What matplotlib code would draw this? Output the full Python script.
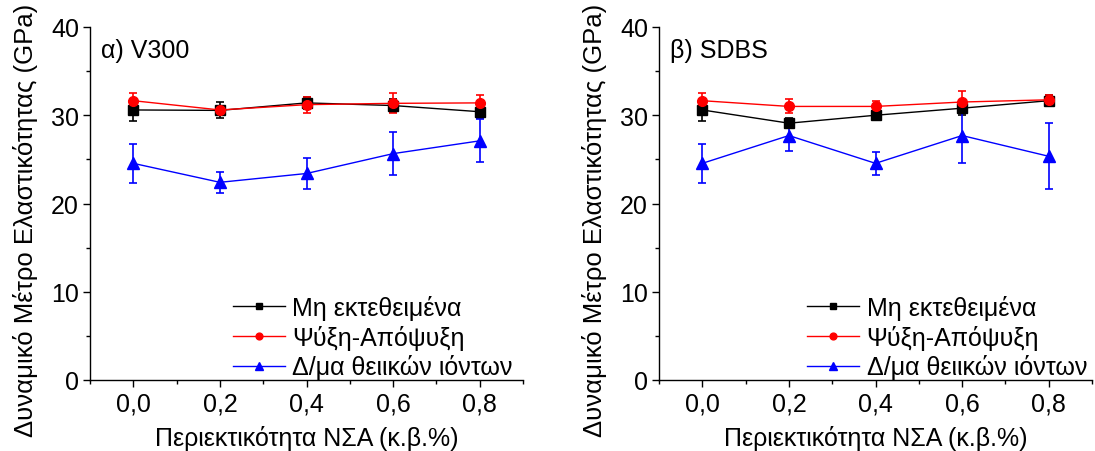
import matplotlib
matplotlib.use("Agg")
import matplotlib.pyplot as plt
from matplotlib.ticker import MultipleLocator

plt.rcParams['font.family'] = ['Liberation Sans', 'DejaVu Sans']

# NSA content (wt.%)
nsa = [0.0, 0.2, 0.4, 0.6, 0.8]

series_names = ["Μη εκτεθειμένα", "Ψύξη-Απόψυξη", "Δ/μα θειικών ιόντων"]

# Panel a) V300
v300_ref = [30.6, 30.55, 31.4, 31.1, 30.4]
v300_ref_err = [1.2, 0.9, 0.7, 0.7, 0.7]
v300_ft = [31.65, 30.6, 31.2, 31.35, 31.4]
v300_ft_err = [0.85, 0.3, 0.9, 1.15, 0.9]
v300_sulf = [24.55, 22.4, 23.4, 25.65, 27.1]
v300_sulf_err = [2.2, 1.2, 1.8, 2.45, 2.45]

# Panel b) SDBS
sdbs_ref = [30.6, 29.1, 30.0, 30.8, 31.65]
sdbs_ref_err = [1.2, 0.6, 0.3, 0.8, 0.6]
sdbs_ft = [31.65, 31.0, 31.0, 31.5, 31.75]
sdbs_ft_err = [0.85, 0.8, 0.65, 1.3, 0.5]
sdbs_sulf = [24.55, 27.7, 24.55, 27.7, 25.35]
sdbs_sulf_err = [2.2, 1.8, 1.3, 3.1, 3.75]

panel_labels = ["α) V300", "β) SDBS"]
x_label = "Περιεκτικότητα ΝΣΑ (κ.β.%)"
y_label = "Δυναμικό Μέτρο Ελαστικότητας (GPa)"
x_ticks = [0.0, 0.2, 0.4, 0.6, 0.8]
x_ticklabels = ["0,0", "0,2", "0,4", "0,6", "0,8"]
y_ticks = [0, 10, 20, 30, 40]

colors = ["black", "red", "blue"]
markers = ["s", "o", "^"]
msizes = [6.5, 7, 8.5]

FS = 18
FS_Y = 18.5

fig = plt.figure(figsize=(10.95, 4.52), dpi=100)
W, H = 1095, 452
# (left, right, legend right edge) in pixels
axes_px = [(90, 523, 513), (659, 1092, 1087)]
y_top, y_bot = 28, 381

panels = [
    [(v300_ref, v300_ref_err), (v300_ft, v300_ft_err), (v300_sulf, v300_sulf_err)],
    [(sdbs_ref, sdbs_ref_err), (sdbs_ft, sdbs_ft_err), (sdbs_sulf, sdbs_sulf_err)],
]

for (xl, xr, leg_r), data, plabel in zip(axes_px, panels, panel_labels):
    aw, ah = xr - xl, y_bot - y_top
    ax = fig.add_axes([xl / W, (H - y_bot) / H, aw / W, ah / H])
    handles = []
    for (vals, errs), c, m, ms, name in zip(data, colors, markers, msizes, series_names):
        ax.errorbar(nsa, vals, yerr=errs, fmt='none', ecolor=c, elinewidth=1.2,
                    capsize=3, capthick=1.2, zorder=2)
        ax.plot(nsa, vals, color=c, lw=1.0, marker=m, ms=ms, zorder=3)
        h, = ax.plot([], [], color=c, lw=1.0, marker=m, ms=ms * 0.7)
        handles.append(h)

    ax.set_xlim(-0.1, 0.9)
    ax.set_ylim(0, 40)
    ax.set_xticks(x_ticks)
    ax.set_xticklabels(x_ticklabels)
    ax.set_yticks(y_ticks)
    ax.xaxis.set_minor_locator(MultipleLocator(0.1))
    ax.yaxis.set_minor_locator(MultipleLocator(5))
    ax.tick_params(which='major', direction='out', length=5, width=1, labelsize=FS, pad=3)
    ax.tick_params(which='minor', direction='out', length=3, width=1)
    ax.spines['top'].set_visible(False)
    ax.spines['right'].set_visible(False)
    for s in ('left', 'bottom'):
        ax.spines[s].set_linewidth(1.0)

    ax.set_xlabel(x_label, fontsize=FS, labelpad=7)
    ax.set_ylabel(y_label, fontsize=FS_Y)
    ax.yaxis.set_label_coords(-52.0 / aw, (y_bot - 220.5) / ah)
    ax.text(0.025, 0.97, plabel, transform=ax.transAxes, fontsize=FS,
            ha='left', va='top')

    ax.legend(handles, series_names, loc='lower right', frameon=False,
              fontsize=FS, handlelength=2.1, handletextpad=0.3,
              labelspacing=0.19, borderpad=0.0, borderaxespad=0.0,
              bbox_to_anchor=((leg_r - xl) / aw, 0.5 / ah))

fig.savefig("out.png", dpi=100)
